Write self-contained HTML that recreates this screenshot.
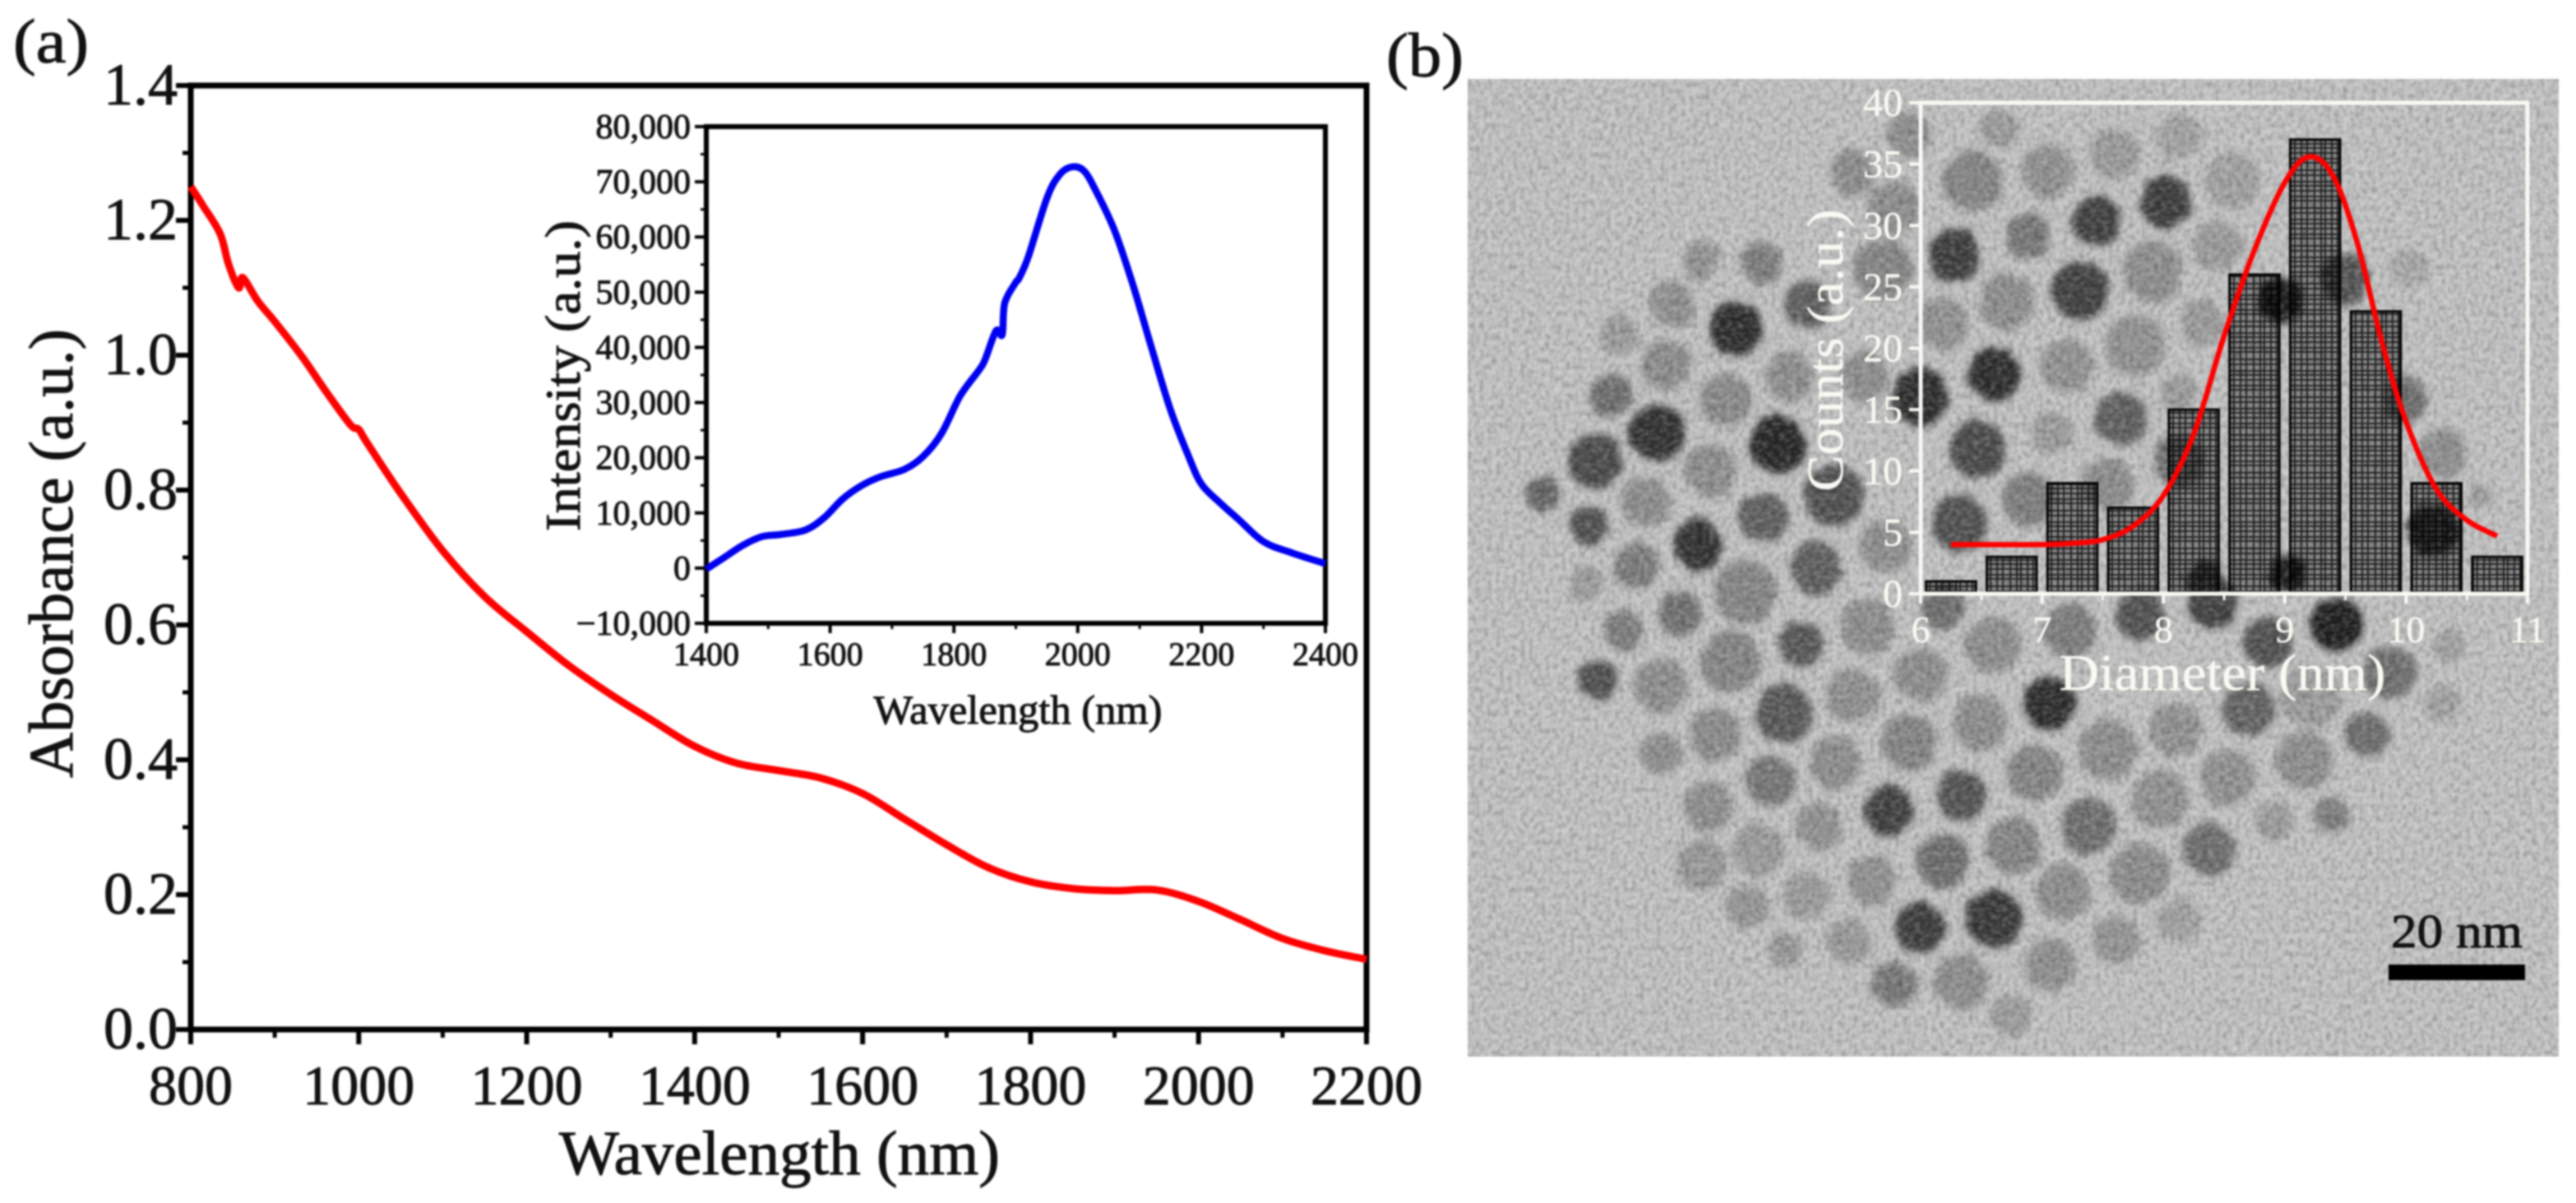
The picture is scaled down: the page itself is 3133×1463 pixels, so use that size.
<!DOCTYPE html>
<html><head><meta charset="utf-8"><title>Absorbance, emission and TEM size distribution</title>
<style>
html,body{margin:0;padding:0;background:#fff}
svg{display:block;filter:blur(1px)}
text{font-family:"Liberation Serif",serif;stroke:#111;stroke-width:1px}
#insetB text{stroke:#f6f6ee;stroke-width:.6px}
</style></head>
<body>
<svg id="fig" xmlns="http://www.w3.org/2000/svg" width="3133" height="1463" viewBox="0 0 3133 1463">
<defs>
<filter id="partBlur" x="-5%" y="-5%" width="110%" height="110%"><feTurbulence type="fractalNoise" baseFrequency="0.06" numOctaves="2" seed="3" result="w"/><feDisplacementMap in="SourceGraphic" in2="w" scale="14" xChannelSelector="R" yChannelSelector="G"/><feGaussianBlur stdDeviation="4.5"/></filter>
<filter id="noiseDark" x="0" y="0" width="100%" height="100%"><feTurbulence type="fractalNoise" baseFrequency="0.2 0.14" numOctaves="2" seed="4"/><feColorMatrix type="matrix" values="0 0 0 0 0  0 0 0 0 0  0 0 0 0 0  2.4 0 0 0 -0.95"/><feGaussianBlur stdDeviation="0.8"/></filter>
<filter id="noiseLight" x="0" y="0" width="100%" height="100%"><feTurbulence type="fractalNoise" baseFrequency="0.14 0.22" numOctaves="2" seed="9"/><feColorMatrix type="matrix" values="0 0 0 0 1  0 0 0 0 1  0 0 0 0 1  2.4 0 0 0 -0.95"/><feGaussianBlur stdDeviation="0.8"/></filter>
<pattern id="hatch" width="37" height="46" patternUnits="userSpaceOnUse"><rect width="37" height="46" fill="rgba(0,0,0,0.3)"/><path d="M0 2H37M0 9H37M0 14H37M0 23H37M0 29H37M0 37H37M0 42H37M3 0V46M11 0V46M16 0V46M24 0V46M31 0V46" stroke="#000" stroke-width="1.8" stroke-opacity="0.8" fill="none"/></pattern>
</defs>
<rect width="3133" height="1463" fill="#fff"/>

<g id="tem">
<rect x="1785" y="96" width="1327" height="1189" fill="#c3c3c3"/>
<g transform="translate(1700,0) scale(0.914,0.935)" filter="url(#partBlur)" opacity="0.9">
<circle cx="405" cy="338" r="25" fill="#8f8f8f"/>
<circle cx="484" cy="343" r="28" fill="#777"/>
<circle cx="365" cy="397" r="30" fill="#8c8c8c"/>
<circle cx="295" cy="435" r="25" fill="#9a9a9a"/>
<circle cx="450" cy="428" r="35" fill="#1a1a1a"/>
<circle cx="545" cy="398" r="32" fill="#555"/>
<circle cx="358" cy="475" r="33" fill="#888"/>
<circle cx="437" cy="520" r="35" fill="#868686"/>
<circle cx="520" cy="490" r="32" fill="#8a8a8a"/>
<circle cx="283" cy="515" r="28" fill="#666"/>
<circle cx="345" cy="563" r="37" fill="#222"/>
<circle cx="505" cy="578" r="38" fill="#151515"/>
<circle cx="262" cy="600" r="36" fill="#3c3c3c"/>
<circle cx="415" cy="613" r="35" fill="#8a8a8a"/>
<circle cx="580" cy="645" r="40" fill="#444"/>
<circle cx="193" cy="643" r="22" fill="#5a5a5a"/>
<circle cx="330" cy="652" r="33" fill="#8a8a8a"/>
<circle cx="487" cy="673" r="33" fill="#555"/>
<circle cx="254" cy="683" r="26" fill="#444"/>
<circle cx="400" cy="708" r="33" fill="#222"/>
<circle cx="318" cy="735" r="30" fill="#777"/>
<circle cx="462" cy="770" r="42" fill="#808080"/>
<circle cx="556" cy="738" r="35" fill="#555"/>
<circle cx="250" cy="760" r="22" fill="#999"/>
<circle cx="376" cy="797" r="29" fill="#6a6a6a"/>
<circle cx="298" cy="820" r="27" fill="#777"/>
<circle cx="536" cy="838" r="30" fill="#4d4d4d"/>
<circle cx="625" cy="815" r="37" fill="#8a8a8a"/>
<circle cx="443" cy="860" r="40" fill="#808080"/>
<circle cx="268" cy="883" r="26" fill="#444"/>
<circle cx="350" cy="893" r="36" fill="#8a8a8a"/>
<circle cx="514" cy="928" r="38" fill="#4e4e4e"/>
<circle cx="605" cy="905" r="35" fill="#8c8c8c"/>
<circle cx="697" cy="878" r="35" fill="#8a8a8a"/>
<circle cx="423" cy="955" r="35" fill="#888"/>
<circle cx="350" cy="980" r="28" fill="#8a8a8a"/>
<circle cx="680" cy="965" r="37" fill="#808080"/>
<circle cx="775" cy="940" r="37" fill="#8a8a8a"/>
<circle cx="868" cy="915" r="35" fill="#1a1a1a"/>
<circle cx="582" cy="993" r="35" fill="#8a8a8a"/>
<circle cx="497" cy="1015" r="33" fill="#707070"/>
<circle cx="945" cy="975" r="40" fill="#8a8a8a"/>
<circle cx="1035" cy="950" r="35" fill="#8e8e8e"/>
<circle cx="848" cy="1005" r="37" fill="#808080"/>
<circle cx="413" cy="1050" r="33" fill="#8a8a8a"/>
<circle cx="560" cy="1075" r="32" fill="#8e8e8e"/>
<circle cx="653" cy="1055" r="33" fill="#333"/>
<circle cx="750" cy="1035" r="33" fill="#484848"/>
<circle cx="1133" cy="925" r="35" fill="#5a5a5a"/>
<circle cx="1215" cy="905" r="40" fill="#9a9a9a"/>
<circle cx="1290" cy="955" r="30" fill="#666"/>
<circle cx="1390" cy="915" r="25" fill="#a0a0a0"/>
<circle cx="1205" cy="990" r="38" fill="#8a8a8a"/>
<circle cx="1105" cy="1012" r="37" fill="#8e8e8e"/>
<circle cx="1015" cy="1040" r="38" fill="#8e8e8e"/>
<circle cx="920" cy="1075" r="37" fill="#666"/>
<circle cx="820" cy="1100" r="37" fill="#808080"/>
<circle cx="725" cy="1120" r="35" fill="#666"/>
<circle cx="630" cy="1145" r="33" fill="#8e8e8e"/>
<circle cx="480" cy="1105" r="35" fill="#999"/>
<circle cx="405" cy="1125" r="33" fill="#959595"/>
<circle cx="465" cy="1180" r="28" fill="#939393"/>
<circle cx="543" cy="1165" r="32" fill="#999"/>
<circle cx="1165" cy="1068" r="25" fill="#999"/>
<circle cx="1243" cy="1060" r="24" fill="#777"/>
<circle cx="1080" cy="1105" r="35" fill="#666"/>
<circle cx="987" cy="1137" r="40" fill="#888"/>
<circle cx="885" cy="1160" r="37" fill="#8a8a8a"/>
<circle cx="793" cy="1195" r="38" fill="#2a2a2a"/>
<circle cx="694" cy="1207" r="33" fill="#2d2d2d"/>
<circle cx="600" cy="1225" r="30" fill="#979797"/>
<circle cx="515" cy="1235" r="23" fill="#959595"/>
<circle cx="955" cy="1222" r="33" fill="#929292"/>
<circle cx="1040" cy="1197" r="30" fill="#a0a0a0"/>
<circle cx="868" cy="1255" r="35" fill="#8c8c8c"/>
<circle cx="750" cy="1278" r="37" fill="#8a8a8a"/>
<circle cx="660" cy="1280" r="30" fill="#707070"/>
<circle cx="817" cy="1320" r="28" fill="#9a9a9a"/>
<circle cx="800" cy="168" r="25" fill="#999"/>
<circle cx="680" cy="175" r="30" fill="#8a8a8a"/>
<circle cx="605" cy="225" r="30" fill="#8a8a8a"/>
<circle cx="765" cy="235" r="40" fill="#808080"/>
<circle cx="865" cy="222" r="35" fill="#8e8e8e"/>
<circle cx="955" cy="200" r="33" fill="#999"/>
<circle cx="1040" cy="178" r="30" fill="#a0a0a0"/>
<circle cx="1110" cy="235" r="37" fill="#a0a0a0"/>
<circle cx="1022" cy="263" r="35" fill="#2f2f2f"/>
<circle cx="930" cy="287" r="33" fill="#333"/>
<circle cx="838" cy="307" r="30" fill="#707070"/>
<circle cx="660" cy="270" r="35" fill="#8a8a8a"/>
<circle cx="740" cy="332" r="35" fill="#2f2f2f"/>
<circle cx="1005" cy="353" r="40" fill="#8a8a8a"/>
<circle cx="1090" cy="320" r="33" fill="#999"/>
<circle cx="1260" cy="362" r="33" fill="#4a4a4a"/>
<circle cx="1345" cy="350" r="25" fill="#a8a8a8"/>
<circle cx="810" cy="393" r="37" fill="#8a8a8a"/>
<circle cx="908" cy="378" r="38" fill="#333"/>
<circle cx="645" cy="350" r="40" fill="#808080"/>
<circle cx="1175" cy="390" r="30" fill="#111"/>
<circle cx="725" cy="420" r="35" fill="#8e8e8e"/>
<circle cx="982" cy="450" r="40" fill="#8e8e8e"/>
<circle cx="1070" cy="420" r="30" fill="#999"/>
<circle cx="890" cy="475" r="35" fill="#8e8e8e"/>
<circle cx="793" cy="487" r="35" fill="#1a1a1a"/>
<circle cx="695" cy="517" r="37" fill="#1a1a1a"/>
<circle cx="1040" cy="510" r="25" fill="#999"/>
<circle cx="962" cy="545" r="35" fill="#555"/>
<circle cx="870" cy="563" r="28" fill="#999"/>
<circle cx="772" cy="585" r="37" fill="#3d3d3d"/>
<circle cx="620" cy="490" r="32" fill="#8a8a8a"/>
<circle cx="1340" cy="520" r="30" fill="#666"/>
<circle cx="1390" cy="590" r="32" fill="#8a8a8a"/>
<circle cx="1040" cy="600" r="35" fill="#666"/>
<circle cx="945" cy="630" r="35" fill="#888"/>
<circle cx="840" cy="650" r="35" fill="#777"/>
<circle cx="747" cy="680" r="37" fill="#444"/>
<circle cx="1440" cy="645" r="15" fill="#999"/>
<circle cx="1378" cy="690" r="35" fill="#222"/>
<circle cx="650" cy="710" r="35" fill="#8a8a8a"/>
<circle cx="1075" cy="755" r="25" fill="#333"/>
<circle cx="1185" cy="745" r="25" fill="#111"/>
<circle cx="725" cy="790" r="30" fill="#666"/>
<circle cx="895" cy="820" r="35" fill="#777"/>
<circle cx="988" cy="800" r="33" fill="#444"/>
<circle cx="1085" cy="785" r="33" fill="#333"/>
<circle cx="792" cy="840" r="37" fill="#8a8a8a"/>
<circle cx="1250" cy="812" r="35" fill="#111"/>
<circle cx="1157" cy="835" r="33" fill="#444"/>
<circle cx="1320" cy="875" r="35" fill="#666"/>
<circle cx="1400" cy="840" r="22" fill="#a0a0a0"/>
</g>
<rect x="1785" y="96" width="1327" height="1189" filter="url(#noiseDark)" opacity="0.22"/>
<rect x="1785" y="96" width="1327" height="1189" filter="url(#noiseLight)" opacity="0.26"/>
</g>

<g id="panelA"></g>
<g id="insetA"></g>
<g id="insetB"></g>

<text x="16" y="76" font-size="76" textLength="92" lengthAdjust="spacingAndGlyphs" fill="#111">(a)</text>
<text x="1686" y="93" font-size="76" textLength="94" lengthAdjust="spacingAndGlyphs" fill="#111">(b)</text>
<text x="2908" y="1152" font-size="58" textLength="160" lengthAdjust="spacingAndGlyphs" fill="#111">20 nm</text>
<rect x="2905" y="1173" width="166" height="19" fill="#000"/>
</svg>

<script>
// Panel (a): absorbance spectrum
const absWavelength = [800,815,835,845,857,862,880,900,933,960,990,1000,1010,1050,1100,1150,1200,1250,1300,1350,1400,1450,1500,1550,1600,1650,1700,1750,1800,1850,1900,1950,2000,2050,2100,2150,2200];
const absValues = [1.25,1.221,1.18,1.135,1.10,1.115,1.08,1.05,0.997,0.948,0.897,0.89,0.87,0.795,0.71,0.642,0.59,0.54,0.497,0.458,0.42,0.395,0.384,0.373,0.35,0.312,0.274,0.24,0.219,0.209,0.206,0.207,0.19,0.163,0.135,0.117,0.104];
const absXTicks = [800,1000,1200,1400,1600,1800,2000,2200];
const absYTicks = ["0.0","0.2","0.4","0.6","0.8","1.0","1.2","1.4"];
// Inset: emission spectrum
const emWavelength = [1400,1430,1460,1490,1520,1560,1590,1620,1650,1680,1720,1750,1780,1810,1840,1850,1868,1878,1882,1900,1905,1920,1950,1970,1990,2010,2030,2060,2090,2120,2150,2180,2200,2230,2258,2300,2345,2400];
const emValues = [-200,2000,4200,5700,6100,6900,9100,12500,14900,16500,17900,20200,24400,31200,35800,37700,43000,42300,48000,51800,52500,56400,67000,71200,72700,72000,68200,61000,51000,39600,28600,20000,15200,11800,9000,4800,2800,800];
const emXTicks = [1400,1600,1800,2000,2200,2400];
const emYTicks = ["-10,000","0","10,000","20,000","30,000","40,000","50,000","60,000","70,000","80,000"];
// Inset (b): particle size histogram
const binCenters = [6.25,6.75,7.25,7.75,8.25,8.75,9.25,9.75,10.25,10.75];
const binCounts = [1,3,9,7,15,26,37,23,9,3];
const fitDiameter = [6.25,6.6,7,7.25,7.5,7.75,8,8.25,8.5,8.75,9,9.2,9.4,9.6,9.8,10,10.25,10.5,10.75];
const fitCounts = [4,4,4,4.1,4.4,5.5,8,13,21,28,33.5,35.6,34,28.5,20.5,14,8.5,6,4.7];
const histXTicks = ["6","7","8","9","10","11"];
const histYTicks = ["0","5","10","15","20","25","30","35","40"];

const NS = 'http://www.w3.org/2000/svg';
function mk(parent, tag, attrs, txt){
  const e = document.createElementNS(NS, tag);
  for (const k in attrs) e.setAttribute(k, attrs[k]);
  if (txt !== undefined) e.textContent = txt;
  parent.appendChild(e);
  return e;
}
function scale(d0,d1,r0,r1){ return v => r0 + (v-d0)/(d1-d0)*(r1-r0); }
function smooth(pts){
  let d = 'M'+pts[0][0].toFixed(1)+' '+pts[0][1].toFixed(1);
  for (let i=0;i<pts.length-1;i++){
    const p0=pts[Math.max(i-1,0)],p1=pts[i],p2=pts[i+1],p3=pts[Math.min(i+2,pts.length-1)];
    const k=1/6;
    d+=' C'+(p1[0]+(p2[0]-p0[0])*k).toFixed(1)+' '+(p1[1]+(p2[1]-p0[1])*k).toFixed(1)+' '+(p2[0]-(p3[0]-p1[0])*k).toFixed(1)+' '+(p2[1]-(p3[1]-p1[1])*k).toFixed(1)+' '+p2[0].toFixed(1)+' '+p2[1].toFixed(1);
  }
  return d;
}

/* ---------- Panel (a) ---------- */
const gA = document.getElementById('panelA');
const ax = scale(800,2200,232,1662), ay = scale(0,1.4,1252,104);
absXTicks.forEach(v=>{
  const t = mk(gA,'line',{x1:ax(v),x2:ax(v),y1:1252,y2:1270,stroke:'#000','stroke-width':6});
  
  
  const l = mk(gA,'text',{x:ax(v),y:1343,'font-size':68,'text-anchor':'middle',fill:'#111'},String(v));
  
  
  if (v<2200){
    const m = mk(gA,'line',{x1:ax(v+100),x2:ax(v+100),y1:1252,y2:1262,stroke:'#000','stroke-width':5});
    
    
  }
});
absYTicks.forEach(s=>{
  const v = parseFloat(s);
  const t = mk(gA,'line',{x1:214,x2:232,y1:ay(v),y2:ay(v),stroke:'#000','stroke-width':6});
  
  
  const l = mk(gA,'text',{x:216,y:ay(v)+23,'font-size':72,'text-anchor':'end',fill:'#111'},s);
  
  
  if (v<1.4){
    const m = mk(gA,'line',{x1:222,x2:232,y1:ay(v+0.1),y2:ay(v+0.1),stroke:'#000','stroke-width':5});
    
    
  }
});
const fA = mk(gA,'rect',{x:232,y:104,width:1430,height:1148,fill:'none',stroke:'#000','stroke-width':7});


const lineA = mk(gA,'path',{d:smooth(absWavelength.map((w,i)=>[ax(w),ay(absValues[i])])),fill:'none',stroke:'#f00','stroke-width':9,'stroke-linejoin':'round'});


const xtA = mk(gA,'text',{x:948,y:1428,'font-size':76,'text-anchor':'middle',textLength:536,lengthAdjust:'spacingAndGlyphs',fill:'#111'},'Wavelength (nm)');


const ytA = mk(gA,'text',{transform:'translate(88,673) rotate(-90)','font-size':76,'text-anchor':'middle',textLength:546,lengthAdjust:'spacingAndGlyphs',fill:'#111'},'Absorbance (a.u.)');



/* ---------- Inset emission ---------- */
const gE = document.getElementById('insetA');
const ex = scale(1400,2400,859,1612), ey = scale(-10000,80000,758,154);
emXTicks.forEach(v=>{
  const t = mk(gE,'line',{x1:ex(v),x2:ex(v),y1:758,y2:770,stroke:'#000','stroke-width':4});
  
  
  const l = mk(gE,'text',{x:ex(v),y:809,'font-size':40,'text-anchor':'middle',fill:'#111'},String(v));
  
  
  if (v<2400){
    const m = mk(gE,'line',{x1:ex(v+100),x2:ex(v+100),y1:758,y2:765,stroke:'#000','stroke-width':3});
    
    
  }
});
emYTicks.forEach(s=>{
  const v = parseInt(s.replace(',',''),10);
  const t = mk(gE,'line',{x1:845,x2:859,y1:ey(v),y2:ey(v),stroke:'#000','stroke-width':4});
  
  
  const label = s.replace('-','\u2212');
  const l = mk(gE,'text',{x:840,y:ey(v)+14,'font-size':42,'text-anchor':'end',fill:'#111'},label);
  
  
  if (v<80000){
    const m = mk(gE,'line',{x1:852,x2:859,y1:ey(v+5000),y2:ey(v+5000),stroke:'#000','stroke-width':3});
    
    
  }
});
const fE = mk(gE,'rect',{x:859,y:154,width:753,height:604,fill:'none',stroke:'#000','stroke-width':6});


const lineE = mk(gE,'path',{d:smooth(emWavelength.map((w,i)=>[ex(w),ey(emValues[i])])),fill:'none',stroke:'#0000f0','stroke-width':8.5,'stroke-linejoin':'round'});


const xtE = mk(gE,'text',{x:1238,y:880,'font-size':50,'text-anchor':'middle',textLength:351,lengthAdjust:'spacingAndGlyphs',fill:'#111'},'Wavelength (nm)');


const ytE = mk(gE,'text',{transform:'translate(705,457) rotate(-90)','font-size':60,'text-anchor':'middle',textLength:378,lengthAdjust:'spacingAndGlyphs',fill:'#111'},'Intensity (a.u.)');



/* ---------- Inset histogram ---------- */
const gH = document.getElementById('insetB');
const hx = scale(6,11,2336,3074), hy = scale(0,40,722,125);
const WHITE = '#fafaf4';
binCenters.forEach((c,i)=>{
  const left = hx(c-0.205), w = hx(c+0.205)-left, top = hy(binCounts[i]);
  const b = mk(gH,'rect',{x:left,y:top,width:w,height:hy(0)-top,fill:'url(#hatch)',stroke:'#000','stroke-width':3});
  
  
});
histXTicks.forEach(s=>{
  const v = parseInt(s,10);
  const t = mk(gH,'line',{x1:hx(v),x2:hx(v),y1:722,y2:734,stroke:WHITE,'stroke-width':4});
  
  
  const l = mk(gH,'text',{x:hx(v),y:781,'font-size':46,'text-anchor':'middle',fill:WHITE},s);
  
  
  if (v<11){
    const m = mk(gH,'line',{x1:hx(v+0.5),x2:hx(v+0.5),y1:722,y2:730,stroke:WHITE,'stroke-width':3});
    
    
  }
});
histYTicks.forEach(s=>{
  const v = parseInt(s,10);
  const t = mk(gH,'line',{x1:2322,x2:2336,y1:hy(v),y2:hy(v),stroke:WHITE,'stroke-width':4});
  
  
  const l = mk(gH,'text',{x:2314,y:hy(v)+16,'font-size':48,'text-anchor':'end',fill:WHITE},s);
  
  
});
const fH = mk(gH,'rect',{x:2336,y:125,width:738,height:597,fill:'none',stroke:WHITE,'stroke-width':5});


const lineH = mk(gH,'path',{d:smooth(fitDiameter.map((d,i)=>[hx(d),hy(fitCounts[i])])),fill:'none',stroke:'#f00','stroke-width':6.5,'stroke-linejoin':'round'});


const xtH = mk(gH,'text',{x:2703,y:839,'font-size':62,'text-anchor':'middle',textLength:397,lengthAdjust:'spacingAndGlyphs',fill:WHITE},'Diameter (nm)');


const ytH = mk(gH,'text',{transform:'translate(2241,426) rotate(-90)','font-size':62,'text-anchor':'middle',textLength:343,lengthAdjust:'spacingAndGlyphs',fill:WHITE},'Counts (a.u.)');


</script>
</body></html>
